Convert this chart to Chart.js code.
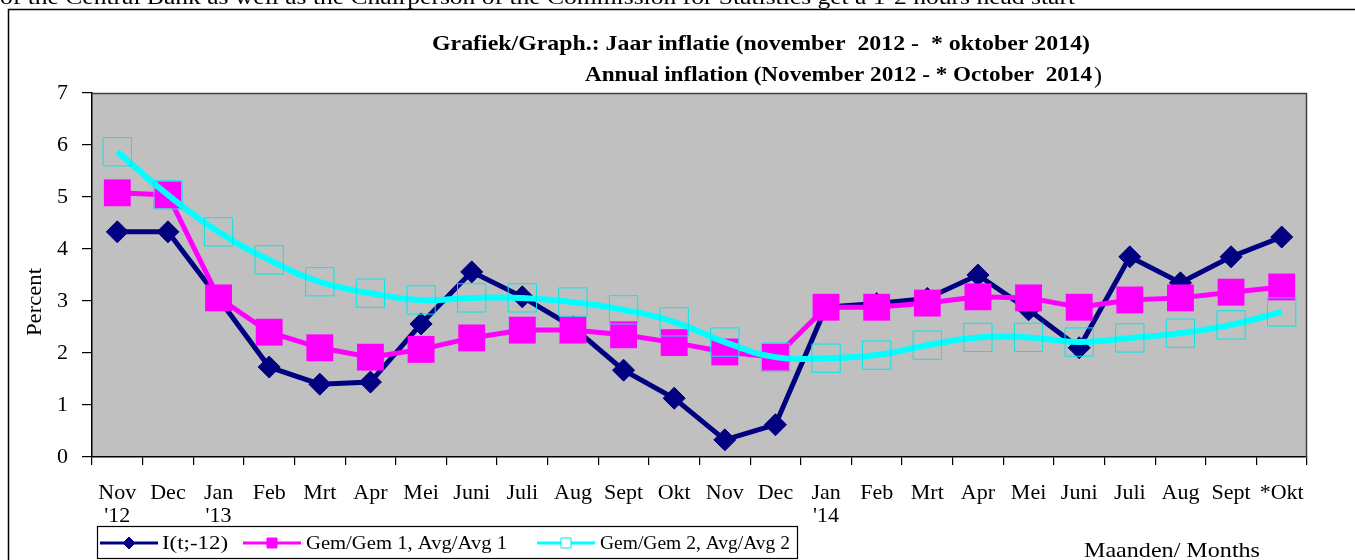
<!DOCTYPE html>
<html>
<head>
<meta charset="utf-8">
<script src="https://cdn.jsdelivr.net/npm/chart.js@4/dist/chart.umd.min.js"></script>
<style>
  html, body { margin: 0; padding: 0; background: #fff; }
  canvas { display: block; }
</style>
</head>
<body>
<canvas id="chart" width="1355" height="560"></canvas>
<script>
// months on the x axis (Nov 2012 - Okt 2014)
const months = [['Nov', "'12"], 'Dec', ['Jan', "'13"], 'Feb', 'Mrt', 'Apr', 'Mei', 'Juni', 'Juli', 'Aug', 'Sept', 'Okt',
  'Nov', 'Dec', ['Jan', "'14"], 'Feb', 'Mrt', 'Apr', 'Mei', 'Juni', 'Juli', 'Aug', 'Sept', '*Okt'];

// annual inflation
const yoy = [4.33, 4.33, 3.05, 1.73, 1.40, 1.44, 2.56, 3.56, 3.08, 2.50, 1.67, 1.13,
  0.33, 0.62, 2.88, 2.95, 3.05, 3.50, 2.83, 2.10, 3.85, 3.35, 3.85, 4.23];
const avg1 = [5.08, 5.04, 3.06, 2.40, 2.10, 1.92, 2.07, 2.29, 2.44, 2.44, 2.35, 2.20,
  2.02, 1.92, 2.88, 2.88, 2.96, 3.08, 3.06, 2.88, 3.02, 3.06, 3.17, 3.27];
const avg2 = [5.87, 5.04, 4.33, 3.79, 3.37, 3.15, 3.02, 3.06, 3.06, 2.98, 2.83, 2.60,
  2.21, 1.92, 1.90, 1.96, 2.15, 2.30, 2.30, 2.21, 2.29, 2.38, 2.54, 2.79];

const seriesNames = ['I(t;-12)', 'Gem/Gem 1, Avg/Avg 1', 'Gem/Gem 2, Avg/Avg 2'];
const yTicks = [0, 1, 2, 3, 4, 5, 6, 7];

const SERIF = '"Liberation Serif", "DejaVu Serif", serif';

// draw text squeezed/stretched to a given width
function fitText(ctx, text, x, y, w, font) {
  ctx.save();
  ctx.font = font;
  const m = ctx.measureText(text).width;
  ctx.translate(x, y);
  ctx.scale(w / m, 1);
  ctx.fillText(text, 0, 0);
  ctx.restore();
}

const decor = {
  id: 'decor',
  beforeDraw(chart) {
    const { ctx, chartArea: a } = chart;
    ctx.save();
    ctx.fillStyle = '#c0c0c0';
    ctx.fillRect(a.left, a.top, a.right - a.left, a.bottom - a.top);
    // outer frame
    ctx.strokeStyle = '#000';
    ctx.lineWidth = 1.5;
    ctx.beginPath();
    ctx.moveTo(8.5, 560);
    ctx.lineTo(8.5, 9.5);
    ctx.lineTo(1355, 9.5);
    ctx.stroke();
    // cut-off line of text above the frame
    ctx.fillStyle = '#000';
    ctx.textBaseline = 'alphabetic';
    fitText(ctx, 'of the Central Bank as well as the Chairperson of the Commission for Statistics get a 1-2 hours head start',
      0, 4, 1075, '20px ' + SERIF);
    ctx.restore();
  },
  afterDraw(chart) {
    const { ctx, chartArea: a } = chart;
    ctx.save();
    // plot area top / right edge
    ctx.strokeStyle = '#404040';
    ctx.lineWidth = 1.5;
    ctx.beginPath();
    ctx.moveTo(a.left, a.top + 0.5);
    ctx.lineTo(a.right - 0.5, a.top + 0.5);
    ctx.lineTo(a.right - 0.5, a.bottom);
    ctx.stroke();

    ctx.fillStyle = '#000';
    ctx.textBaseline = 'alphabetic';
    fitText(ctx, 'Grafiek/Graph.: Jaar inflatie (november  2012 -  * oktober 2014)', 432, 50, 658, 'bold 21px ' + SERIF);
    fitText(ctx, 'Annual inflation (November 2012 - * October  2014', 585, 81, 507, 'bold 21px ' + SERIF);
    ctx.font = '24px ' + SERIF;
    ctx.fillText(')', 1094, 83);
    fitText(ctx, 'Maanden/ Months', 1084, 557, 176, '21px ' + SERIF);

    // y axis title
    ctx.save();
    ctx.translate(41, 302);
    ctx.rotate(-Math.PI / 2);
    fitText(ctx, 'Percent', -34, 0, 68, '21px ' + SERIF);
    ctx.restore();

    // legend box
    ctx.fillStyle = '#fff';
    ctx.fillRect(97, 526, 700, 32);
    ctx.strokeStyle = '#000';
    ctx.lineWidth = 1.2;
    ctx.strokeRect(97.5, 526.5, 700, 32);
    const ds = chart.data.datasets;
    const items = [
      { x0: 100, tx: 162, tw: 66 },
      { x0: 243, tx: 306, tw: 201 },
      { x0: 537, tx: 600, tw: 190 }
    ];
    const ly = 543;
    items.forEach((it, i) => {
      const d = ds[i];
      ctx.strokeStyle = d.borderColor;
      ctx.lineWidth = 3;
      ctx.beginPath();
      ctx.moveTo(it.x0, ly);
      ctx.lineTo(it.x0 + 58, ly);
      ctx.stroke();
      ctx.fillStyle = d.pointBackgroundColor;
      ctx.strokeStyle = d.pointBorderColor;
      ctx.lineWidth = 1;
      ctx.beginPath();
      if (d.pointStyle === 'rectRot') {
        ctx.moveTo(it.x0 + 23, ly); ctx.lineTo(it.x0 + 29, ly - 6);
        ctx.lineTo(it.x0 + 35, ly); ctx.lineTo(it.x0 + 29, ly + 6);
        ctx.closePath();
      } else {
        ctx.rect(it.x0 + 24, ly - 5, 10, 10);
      }
      if (i === 2) { ctx.fillStyle = '#fff'; }
      ctx.fill();
      ctx.stroke();
      ctx.fillStyle = '#000';
      fitText(ctx, d.label, it.tx, ly + 6, it.tw, '19px ' + SERIF);
    });
    ctx.restore();
  }
};

const ctx = document.getElementById('chart').getContext('2d');

new Chart(ctx, {
  type: 'line',
  data: {
    labels: months,
    datasets: [{
      label: seriesNames[0],
      data: yoy,
      borderColor: '#000080',
      backgroundColor: '#000080',
      borderWidth: 5,
      pointStyle: 'rectRot',
      pointRadius: 11,
      pointBackgroundColor: '#000080',
      pointBorderColor: '#000080',
      pointBorderWidth: 1,
      tension: 0,
      order: 3
    }, {
      label: seriesNames[1],
      data: avg1,
      borderColor: '#ff00ff',
      backgroundColor: '#ff00ff',
      borderWidth: 5,
      pointStyle: 'rect',
      pointRadius: 19,
      pointBackgroundColor: '#ff00ff',
      pointBorderColor: '#ff00ff',
      pointBorderWidth: 0,
      tension: 0,
      order: 2
    }, {
      label: seriesNames[2],
      data: avg2,
      borderColor: '#00ffff',
      backgroundColor: 'rgba(0,0,0,0)',
      borderWidth: 6,
      pointStyle: 'rect',
      pointRadius: 20,
      pointBackgroundColor: 'rgba(0,0,0,0)',
      pointBorderColor: '#00e8e8',
      pointBorderWidth: 1,
      tension: 0.45,
      order: 1
    }]
  },
  options: {
    responsive: false,
    animation: false,
    events: [],
    layout: { padding: { top: 93, right: 48, left: 0, bottom: 0 } },
    plugins: {
      legend: { display: false },
      title: { display: false },
      tooltip: { enabled: false }
    },
    scales: {
      x: {
        offset: true,
        afterFit(scale) { scale.height = 103; },
        grid: { offset: true, drawOnChartArea: false, drawTicks: true, tickLength: 8, color: '#000', lineWidth: 1.2 },
        border: { color: '#000', width: 1.5 },
        ticks: {
          color: '#000',
          font: { family: SERIF, size: 22, lineHeight: 1.05 },
          padding: 17,
          maxRotation: 0,
          autoSkip: false
        }
      },
      y: {
        min: 0,
        max: 7,
        afterFit(scale) { scale.width = 92; },
        afterBuildTicks(scale) { scale.ticks = yTicks.map(v => ({ value: v })); },
        grid: { drawOnChartArea: false, drawTicks: true, tickLength: 10, color: '#000', lineWidth: 1.2 },
        border: { color: '#000', width: 1.5 },
        ticks: {
          color: '#000',
          font: { family: SERIF, size: 22 },
          padding: 14
        }
      }
    }
  },
  plugins: [decor]
});
</script>
</body>
</html>
